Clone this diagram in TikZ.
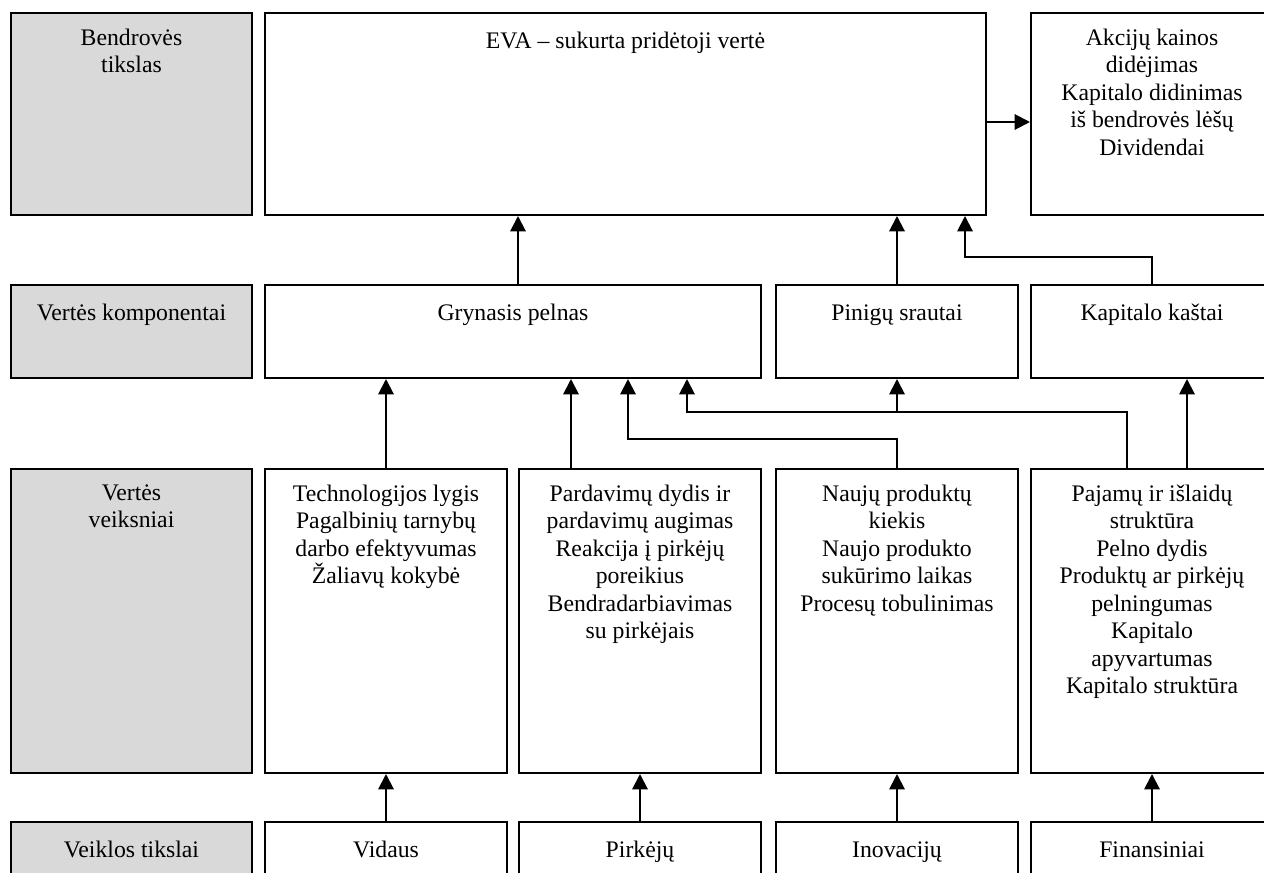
\documentclass[tikz,border=0pt]{standalone}
\usepackage{fontspec}
\setmainfont{Liberation Serif}
\usetikzlibrary{arrows.meta}
\begin{document}
\begin{tikzpicture}[x=0.75pt,y=-0.75pt,
  box/.style={draw, line width=1.5pt, inner sep=0pt, anchor=north west},
  shaded/.style={box, fill=black!15},
  colw/.style={minimum width=181.5pt},
  rowA/.style={minimum height=151.5pt},
  rowB/.style={minimum height=69.75pt},
  rowC/.style={minimum height=228pt},
  rowD/.style={minimum height=59.25pt},
  lbl/.style={anchor=north, inner sep=0pt, align=center,
    font=\fontsize{17.8pt}{20.6pt}\selectfont, execute at begin node=\strut},
  arr/.style={line width=1.5pt, -{Triangle[length=11.5pt,width=11.5pt]}}]
\useasboundingbox (0,0) rectangle (1264,872);
\clip (0,0) rectangle (1264,872);

% level captions (left column)
\node[shaded, minimum width=180.75pt, rowA] (g1) at (10,12) {};
\node[shaded, minimum width=180.75pt, rowB] (g2) at (10,284) {};
\node[shaded, minimum width=180.75pt, rowC] (g3) at (10,468) {};
\node[shaded, minimum width=180.75pt, rowD] (g4) at (10,821) {};

% goal of the company
\node[box, minimum width=540.75pt, rowA] (eva) at (264,12) {};
\node[box, colw, rowA] (akc) at (1030,12) {};

% value components
\node[box, minimum width=372pt, rowB] (gryn) at (264,284) {};
\node[box, colw, rowB] (pin) at (775,284) {};
\node[box, colw, rowB] (kap) at (1030,284) {};

% value drivers
\node[box, colw, rowC] (tech) at (264,468) {};
\node[box, colw, rowC] (pard) at (518,468) {};
\node[box, colw, rowC] (nauj) at (775,468) {};
\node[box, colw, rowC] (paj) at (1030,468) {};

% operating goals
\node[box, colw, rowD] (vid) at (264,821) {};
\node[box, colw, rowD] (pirk) at (518,821) {};
\node[box, colw, rowD] (inov) at (775,821) {};
\node[box, colw, rowD] (fin) at (1030,821) {};

% texts
\tikzset{tshift/.style={yshift=-12.4pt}}
\node[lbl] (g1t) at ([tshift]g1.north) {Bendrovės\\tikslas};
\node[lbl] (g2t) at ([tshift]g2.north) {Vertės komponentai};
\node[lbl] (g3t) at ([tshift]g3.north) {Vertės\\veiksniai};
\node[lbl] (g4t) at ([tshift]g4.north) {Veiklos tikslai};

\node[lbl] (evat) at ([tshift]eva.north) {EVA – sukurta pridėtoji vertė};
\node[lbl] (akct) at ([tshift]akc.north) {Akcijų kainos\\didėjimas\\Kapitalo didinimas\\iš bendrovės lėšų\\Dividendai};

\node[lbl] (grynt) at ([tshift]gryn.north) {Grynasis pelnas};
\node[lbl] (pint) at ([tshift]pin.north) {Pinigų srautai};
\node[lbl] (kapt) at ([tshift]kap.north) {Kapitalo kaštai};

\node[lbl] (techt) at ([tshift]tech.north) {Technologijos lygis\\Pagalbinių tarnybų\\darbo efektyvumas\\Žaliavų kokybė};
\node[lbl] (pardt) at ([tshift]pard.north) {Pardavimų dydis ir\\pardavimų augimas\\Reakcija į pirkėjų\\poreikius\\Bendradarbiavimas\\su pirkėjais};
\node[lbl] (naujt) at ([tshift]nauj.north) {Naujų produktų\\kiekis\\Naujo produkto\\sukūrimo laikas\\Procesų tobulinimas};
\node[lbl] (pajt) at ([tshift]paj.north) {Pajamų ir išlaidų\\struktūra\\Pelno dydis\\Produktų ar pirkėjų\\pelningumas\\Kapitalo\\apyvartumas\\Kapitalo struktūra};

\node[lbl] (vidt) at ([tshift]vid.north) {Vidaus};
\node[lbl] (pirkt) at ([tshift]pirk.north) {Pirkėjų};
\node[lbl] (inovt) at ([tshift]inov.north) {Inovacijų};
\node[lbl] (fint) at ([tshift]fin.north) {Finansiniai};

% operating goals -> value drivers
\draw[arr] (vid.north) -- (tech.south);
\draw[arr] (pirk.north) -- (pard.south);
\draw[arr] (inov.north) -- (nauj.south);
\draw[arr] (fin.north) -- (paj.south);

% value drivers -> value components
\draw[arr] (tech.north) -- (tech.north |- gryn.south);
\draw[arr] (571,0 |- pard.north) -- (571,0 |- gryn.south);
\draw[arr] (nauj.north) -- ++(0,-29) -| (628,0 |- gryn.south);
\draw[arr] (1127,0 |- paj.north) -- ++(0,-56) -| (687,0 |- gryn.south);
\draw[arr] (1127,0 |- paj.north) -- ++(0,-56) -| (pin.south);
\draw[arr] (1187,0 |- paj.north) -- (1187,0 |- kap.south);

% value components -> EVA
\draw[arr] (518,0 |- gryn.north) -- (518,0 |- eva.south);
\draw[arr] (pin.north) -- (pin.north |- eva.south);
\draw[arr] (kap.north) -- ++(0,-27) -| (965,0 |- eva.south);

% EVA -> results for shareholders
\draw[arr] (eva.east |- 0,122) -- (akc.west |- 0,122);
\end{tikzpicture}
\end{document}
